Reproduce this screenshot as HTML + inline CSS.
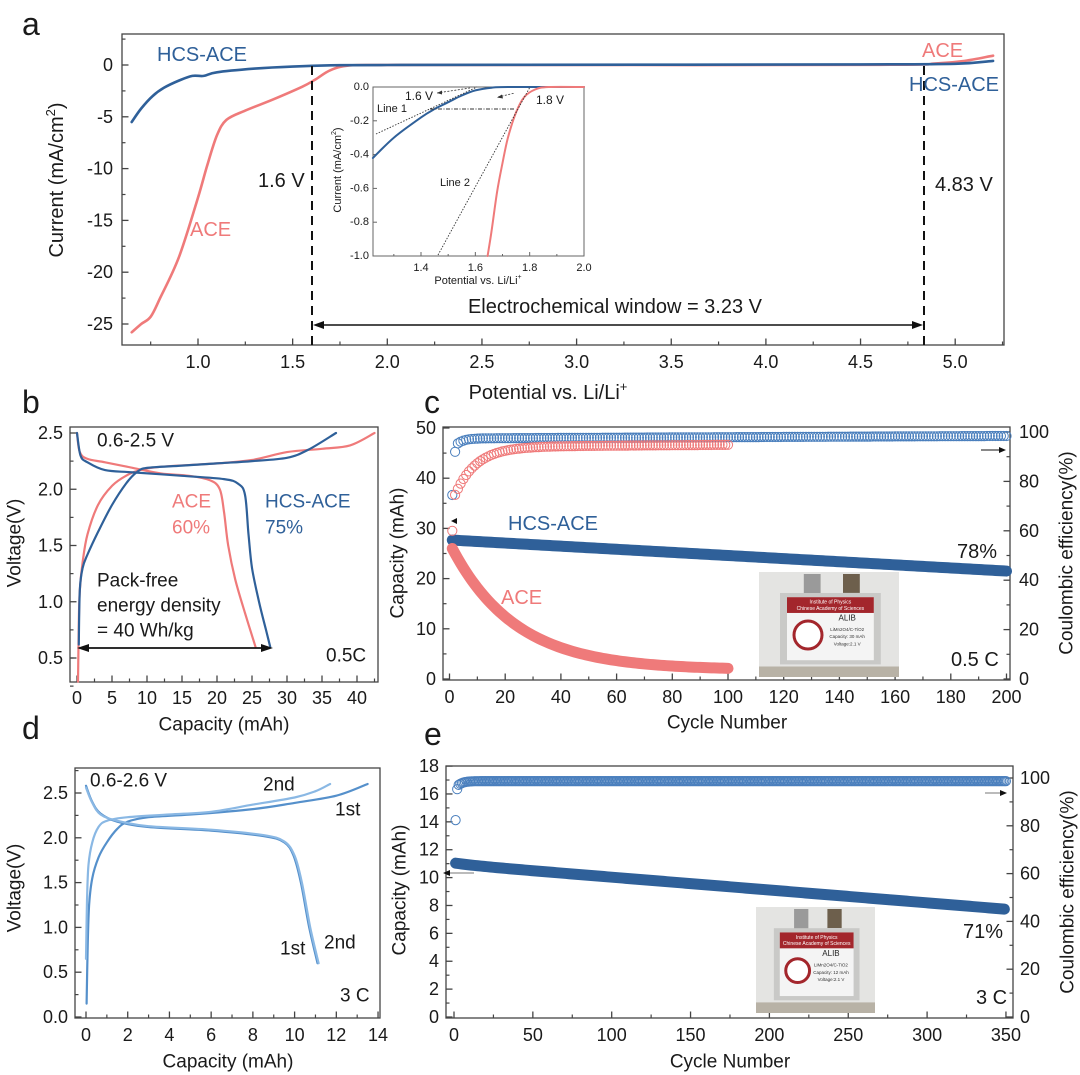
<!DOCTYPE html>
<html><head><meta charset="utf-8">
<style>
html,body{margin:0;padding:0;background:#fff;}
svg{display:block;font-family:"Liberation Sans",Arial,sans-serif;}
</style></head>
<body>
<svg id="s" width="1080" height="1075" viewBox="0 0 1080 1075" xmlns="http://www.w3.org/2000/svg"></svg>
<script>
const S=[];const add=s=>S.push(s);
const BL='#2f6099',RD='#ef7a7a';
function txt(x,y,t,o){o=o||{};const sz=o.size||18,an=o.anchor||'start',c=o.color||'#1a1a1a';
 let tr=o.rot?` transform="rotate(${o.rot} ${x} ${y})"`:'';
 add(`<text x="${x}" y="${y}" font-size="${sz}" fill="${c}" text-anchor="${an}" dominant-baseline="central"${tr}>${t}</text>`);}
function cr(pts){let d=`M${pts[0][0].toFixed(1)},${pts[0][1].toFixed(1)}`;
 for(let i=0;i<pts.length-1;i++){const p0=pts[i-1]||pts[i],p1=pts[i],p2=pts[i+1],p3=pts[i+2]||p2;
 const c1=[p1[0]+(p2[0]-p0[0])/6,p1[1]+(p2[1]-p0[1])/6],c2=[p2[0]-(p3[0]-p1[0])/6,p2[1]-(p3[1]-p1[1])/6];
 d+=` C${c1[0].toFixed(1)},${c1[1].toFixed(1)} ${c2[0].toFixed(1)},${c2[1].toFixed(1)} ${p2[0].toFixed(1)},${p2[1].toFixed(1)}`;}return d;}
function curve(data,X,Y,col,w){add(`<path d="${cr(data.map(p=>[X(p[0]),Y(p[1])]))}" fill="none" stroke="${col}" stroke-width="${w}" stroke-linejoin="round" stroke-linecap="round"/>`);}
function range(a,b,s){const r=[];for(let v=a;v<=b+1e-9;v+=s)r.push(+v.toFixed(4));return r;}
function box(x1,y1,x2,y2){add(`<rect x="${x1}" y="${y1}" width="${x2-x1}" height="${y2-y1}" fill="none" stroke="#444" stroke-width="1.3"/>`);}
function xt(X,y2,maj,min,fmt,ly,sz){min.forEach(v=>add(`<line x1="${X(v)}" y1="${y2}" x2="${X(v)}" y2="${y2-3.5}" stroke="#444" stroke-width="1.2"/>`));
 maj.forEach(v=>{add(`<line x1="${X(v)}" y1="${y2}" x2="${X(v)}" y2="${y2-6.5}" stroke="#444" stroke-width="1.3"/>`);txt(X(v),ly,fmt(v),{anchor:'middle',size:sz||18});});}
function yt(Y,x,maj,min,fmt,lx,right,sz){const d=right?-1:1;
 min.forEach(v=>add(`<line x1="${x}" y1="${Y(v)}" x2="${x+d*3.5}" y2="${Y(v)}" stroke="#444" stroke-width="1.2"/>`));
 maj.forEach(v=>{add(`<line x1="${x}" y1="${Y(v)}" x2="${x+d*6.5}" y2="${Y(v)}" stroke="#444" stroke-width="1.3"/>`);txt(lx,Y(v),fmt(v),{anchor:right?'start':'end',size:sz||18});});}
const f1=v=>v.toFixed(1),f0=v=>String(Math.round(v));

/* ================= Panel a ================= */
txt(22,24,'a',{size:32});
{const X=v=>198+(v-1)*189.3,Y=i=>65-i*10.36;
 box(122,34,1004,345);
 xt(X,345,range(1,5,0.5),range(0.75,5.25,0.5),f1,362);
 yt(Y,122,range(-25,0,5),range(-22.5,2.5,5),f0,113);
 curve([[0.65,-25.8],[0.7,-25],[0.75,-24.3],[0.8,-22.5],[0.9,-18.5],[1.0,-12.8],[1.05,-9.6],[1.1,-6.8],[1.15,-5.3],[1.25,-4.4],[1.4,-3.3],[1.55,-2.1],[1.62,-1.4],[1.7,-0.5],[1.8,-0.05],[2.0,0],[2.7,0],[4.6,0.02],[4.9,0.15],[5.05,0.4],[5.2,0.9]],X,Y,RD,2.6);
 curve([[0.65,-5.5],[0.7,-4.2],[0.76,-3],[0.82,-2.2],[0.9,-1.5],[0.97,-1.05],[1.03,-1.05],[1.1,-0.7],[1.3,-0.35],[1.5,-0.15],[1.7,-0.03],[2.0,0],[2.7,0.02],[4.5,0.06],[5.0,0.12],[5.2,0.4]],X,Y,BL,2.6);
 add(`<line x1="312" y1="66" x2="312" y2="345" stroke="#111" stroke-width="2" stroke-dasharray="9,6"/>`);
 add(`<line x1="924" y1="66" x2="924" y2="345" stroke="#111" stroke-width="2" stroke-dasharray="9,6"/>`);
 add(`<line x1="322" y1="325" x2="914" y2="325" stroke="#111" stroke-width="1.6"/>`);
 add(`<polygon points="313,325 324,321 324,329" fill="#111"/><polygon points="923,325 912,321 912,329" fill="#111"/>`);
 txt(615,307,'Electrochemical window = 3.23 V',{size:20,anchor:'middle'});
 txt(258,181,'1.6 V',{size:20});
 txt(935,185,'4.83 V',{size:20});
 txt(157,55,'HCS-ACE',{size:20,color:BL});
 txt(190,230,'ACE',{size:20,color:RD});
 txt(922,51,'ACE',{size:20,color:RD});
 txt(909,85,'HCS-ACE',{size:20,color:BL});
 txt(57,180,'Current (mA/cm<tspan font-size="13" dy="-7">2</tspan><tspan dy="7">)</tspan>',{size:20,anchor:'middle',rot:-90});
 txt(548,393,'Potential vs. Li/Li<tspan font-size="13" dy="-7">+</tspan>',{size:20,anchor:'middle'});
 /* inset */
 const XI=v=>421+(v-1.4)*271.7,YI=i=>87-i*169;
 add(`<rect x="373" y="87" width="211" height="169" fill="#fff" stroke="#666" stroke-width="1"/>`);
 [1.4,1.6,1.8,2.0].forEach(v=>{add(`<line x1="${XI(v)}" y1="256" x2="${XI(v)}" y2="252" stroke="#666"/>`);txt(XI(v),268,f1(v),{size:11,anchor:'middle'});});
 [1.3,1.5,1.7,1.9].forEach(v=>add(`<line x1="${XI(v)}" y1="256" x2="${XI(v)}" y2="254" stroke="#666"/>`));
 [0,-0.2,-0.4,-0.6,-0.8,-1.0].forEach(v=>{add(`<line x1="373" y1="${YI(v)}" x2="377" y2="${YI(v)}" stroke="#666"/>`);txt(369,YI(v),v.toFixed(1),{size:11,anchor:'end'});});
 txt(478,281,'Potential vs. Li/Li<tspan font-size="7" dy="-4">+</tspan>',{size:11,anchor:'middle'});
 txt(338,170,'Current (mA/cm<tspan font-size="7" dy="-4">2</tspan><tspan dy="4">)</tspan>',{size:11,anchor:'middle',rot:-90});
 curve([[1.223,-0.42],[1.3,-0.3],[1.4,-0.18],[1.45,-0.13],[1.5,-0.09],[1.55,-0.05],[1.6,-0.02],[1.66,-0.004],[1.72,0],[2,0]],XI,YI,BL,2);
 curve([[1.645,-1.0],[1.66,-0.85],[1.68,-0.62],[1.7,-0.45],[1.72,-0.3],[1.75,-0.15],[1.78,-0.06],[1.82,-0.015],[1.87,0],[2,0]],XI,YI,RD,2);
 add(`<line x1="376" y1="134" x2="477" y2="87" stroke="#333" stroke-width="0.9" stroke-dasharray="1.5,1.5"/>`);
 add(`<line x1="438" y1="255" x2="530" y2="87" stroke="#333" stroke-width="0.9" stroke-dasharray="1.5,1.5"/>`);
 add(`<line x1="430" y1="109" x2="515" y2="109" stroke="#333" stroke-width="0.9" stroke-dasharray="4,1.5,1,1.5"/>`);
 add(`<line x1="437" y1="93" x2="470" y2="88" stroke="#333" stroke-width="0.8" stroke-dasharray="2,1.5"/><polygon points="437,93 442,90.5 442,94.5" fill="#333"/>`);
 add(`<line x1="498" y1="97" x2="515" y2="93" stroke="#333" stroke-width="0.8" stroke-dasharray="2,1.5"/><polygon points="497,97.5 502,94.5 503,98.5" fill="#333"/>`);
 txt(405,96,'1.6 V',{size:12});txt(536,100,'1.8 V',{size:12});
 txt(377,109,'Line 1',{size:11});txt(440,183,'Line 2',{size:11});
}

/* ================= Panel b ================= */
txt(22,402,'b',{size:32});
{const X=c=>77+c*7,Y=v=>433+(2.5-v)*112.5;
 box(70,427,378,682);
 xt(X,682,range(0,40,5),range(2.5,42.5,5),f0,698);
 yt(Y,70,range(0.5,2.5,0.5),range(0.25,2.25,0.5).concat([0.5]),f1,63);
 curve([[0.15,0.29],[0.25,0.8],[0.4,1.1],[0.8,1.35],[1.5,1.6],[3,1.86],[5,2.03],[7,2.12],[9,2.17],[12,2.2],[20,2.23],[25,2.26],[30,2.33],[35,2.36],[39,2.39],[42.5,2.5]],X,Y,RD,2.2);
 curve([[0,2.5],[0.4,2.33],[1.5,2.27],[4,2.24],[8,2.19],[12,2.14],[16,2.12],[19,2.08],[20.4,2.0],[21,1.8],[21.6,1.5],[22.6,1.2],[24,0.9],[25.5,0.6]],X,Y,RD,2.2);
 curve([[0.25,0.62],[0.4,1.1],[0.8,1.3],[1.5,1.42],[3,1.62],[5,1.86],[7,2.05],[8.5,2.15],[10,2.19],[15,2.21],[20,2.23],[25,2.25],[30,2.28],[33,2.35],[37,2.5]],X,Y,BL,2.2);
 curve([[0,2.5],[0.5,2.3],[1.5,2.24],[4,2.17],[8,2.15],[15,2.12],[21,2.09],[23,2.05],[24,1.95],[24.5,1.6],[25,1.3],[26,1.0],[27,0.75],[27.6,0.6]],X,Y,BL,2.2);
 add(`<line x1="86" y1="648" x2="264" y2="648" stroke="#111" stroke-width="1.8"/><polygon points="77,648 89,644 89,652" fill="#111"/><polygon points="273,648 261,644 261,652" fill="#111"/>`);
 txt(97,441,'0.6-2.5 V',{size:19});
 txt(172,502,'ACE',{size:19,color:RD});txt(172,528,'60%',{size:19,color:RD});
 txt(265,502,'HCS-ACE',{size:19,color:BL});txt(265,528,'75%',{size:19,color:BL});
 txt(97,581,'Pack-free',{size:19});txt(97,606,'energy density',{size:19});txt(97,631,'= 40 Wh/kg',{size:19});
 txt(326,656,'0.5C',{size:19});
 txt(224,725,'Capacity (mAh)',{size:19,anchor:'middle'});
 txt(15,543,'Voltage(V)',{size:19,anchor:'middle',rot:-90});
}

/* photo helper */
function photo(x,y,w,h,cap){
 add(`<rect x="${x}" y="${y}" width="${w}" height="${h}" fill="#e4e4e2"/>`);
 add(`<rect x="${x+w*0.32}" y="${y+2}" width="${w*0.12}" height="${h*0.2}" fill="#9a9a9a"/>`);
 add(`<rect x="${x+w*0.6}" y="${y+2}" width="${w*0.12}" height="${h*0.18}" fill="#6d5f4c"/>`);
 add(`<rect x="${x+w*0.15}" y="${y+h*0.2}" width="${w*0.72}" height="${h*0.68}" fill="#c9c9c7"/>`);
 add(`<rect x="${x+w*0.2}" y="${y+h*0.24}" width="${w*0.62}" height="${h*0.6}" fill="#f4f4f4"/>`);
 add(`<rect x="${x+w*0.2}" y="${y+h*0.24}" width="${w*0.62}" height="${h*0.15}" fill="#a3262c"/>`);
 add(`<text x="${x+w*0.51}" y="${y+h*0.3}" font-size="5" fill="#fff" text-anchor="middle">Institute of Physics</text>`);
 add(`<text x="${x+w*0.51}" y="${y+h*0.36}" font-size="5" fill="#fff" text-anchor="middle">Chinese Academy of Sciences</text>`);
 add(`<circle cx="${x+w*0.35}" cy="${y+h*0.6}" r="${w*0.1}" fill="#fff" stroke="#a3262c" stroke-width="3"/>`);
 add(`<text x="${x+w*0.63}" y="${y+h*0.46}" font-size="8" fill="#222" text-anchor="middle">ALIB</text>`);
 add(`<text x="${x+w*0.63}" y="${y+h*0.56}" font-size="4.5" fill="#333" text-anchor="middle">LiMn2O4/C-TiO2</text>`);
 add(`<text x="${x+w*0.63}" y="${y+h*0.63}" font-size="4.5" fill="#333" text-anchor="middle">Capacity: ${cap}</text>`);
 add(`<text x="${x+w*0.63}" y="${y+h*0.7}" font-size="4.5" fill="#333" text-anchor="middle">Voltage:2.1 V</text>`);
 add(`<rect x="${x}" y="${y+h*0.9}" width="${w}" height="${h*0.1}" fill="#b8b2a6"/>`);
}

/* ================= Panel c ================= */
txt(424,402,'c',{size:32});
{const X=n=>449.5+n*2.785,YL=c=>679-c*5.02,YR=e=>679-e*2.47;
 box(443,427,1010,680);
 xt(X,680,range(0,200,20),range(10,190,20),f0,697);
 yt(YL,443,range(0,50,10),range(5,45,10),f0,436);
 yt(YR,1010,range(0,100,20),range(10,90,20),f0,1019,true);
 photo(759,572,140,105,'30 mAh');
 let pr=[],pb=[];
 for(let n=1;n<=100;n++)pr.push([X(n),YL(1.8+24.2*Math.exp(-(n-1)/23))]);
 for(let n=1;n<=200;n++)pb.push([X(n),YL(27.7-0.031*n)]);
 add(`<polyline points="${pb.map(p=>p.join(',')).join(' ')}" fill="none" stroke="${BL}" stroke-width="11" stroke-linecap="round" stroke-linejoin="round"/>`);
 add(`<polyline points="${pr.map(p=>p.join(',')).join(' ')}" fill="none" stroke="${RD}" stroke-width="11" stroke-linecap="round" stroke-linejoin="round"/>`);
 let cs='';
 for(let n=1;n<=200;n++){const e=n==1?74.5:n==2?92:98.4-1.0*(1-n/200)-3*Math.exp(-(n-2)/2.5);cs+=`<circle cx="${X(n).toFixed(1)}" cy="${YR(e).toFixed(1)}" r="4.6"/>`;}
 add(`<g fill="none" stroke="#4a7fbd" stroke-width="1">${cs}</g>`);
 cs='';
 for(let n=1;n<=100;n++){const e=n==1?60:94.8-19.5*Math.exp(-(n-2)/7.5)-0.8*(1-n/100);cs+=`<circle cx="${X(n).toFixed(1)}" cy="${YR(e).toFixed(1)}" r="4.6"/>`;}
 add(`<g fill="none" stroke="${RD}" stroke-width="1">${cs}</g>`);
 add(`<polygon points="451,521 457,518 457,524" fill="#111"/>`);
 add(`<line x1="981" y1="450" x2="1003" y2="450" stroke="#111" stroke-width="1"/><polygon points="1006,450 999,447 999,453" fill="#111"/>`);
 txt(508,524,'HCS-ACE',{size:20,color:BL});
 txt(501,598,'ACE',{size:20,color:RD});
 txt(957,552,'78%',{size:20});
 txt(951,660,'0.5 C',{size:20});
 txt(727,723,'Cycle Number',{size:19,anchor:'middle'});
 txt(398,553,'Capacity (mAh)',{size:19,anchor:'middle',rot:-90});
 txt(1067,553,'Coulombic efficiency(%)',{size:19,anchor:'middle',rot:-90});
}

/* ================= Panel d ================= */
txt(22,728,'d',{size:32});
{const X=c=>86+c*20.86,Y=v=>1017-v*89.6;
 box(75,768,380,1018);
 xt(X,1018,range(0,14,2),range(1,13,2),f0,1035);
 yt(Y,75,range(0,2.5,0.5),range(0.25,2.75,0.5),f1,68);
 const C1='#5590cb',C2='#8ab8e4';
 curve([[0.03,0.15],[0.08,0.8],[0.15,1.25],[0.3,1.55],[0.6,1.78],[1.0,1.95],[1.5,2.1],[2,2.18],[3,2.23],[5,2.26],[8,2.32],[10,2.39],[12,2.47],[13.5,2.6]],X,Y,C1,2.2);
 curve([[0.0,0.65],[0.05,1.3],[0.12,1.7],[0.3,1.95],[0.6,2.12],[1.0,2.19],[2,2.23],[4,2.26],[6,2.29],[8,2.37],[10,2.45],[11,2.52],[11.7,2.6]],X,Y,C2,2.2);
 curve([[0,2.58],[0.3,2.4],[0.7,2.27],[1.5,2.18],[3,2.12],[6,2.08],[8.5,2.02],[9.5,1.95],[9.95,1.8],[10.3,1.5],[10.7,1.0],[11.1,0.6]],X,Y,C1,2.2);
 curve([[0,2.56],[0.3,2.39],[0.7,2.26],[1.5,2.19],[3,2.13],[6,2.09],[8.5,2.03],[9.5,1.96],[10.0,1.8],[10.35,1.5],[10.75,1.0],[11.15,0.6]],X,Y,C2,2.2);
 txt(90,781,'0.6-2.6 V',{size:19});
 txt(263,785,'2nd',{size:19});txt(335,810,'1st',{size:19});
 txt(280,949,'1st',{size:19});txt(324,943,'2nd',{size:19});
 txt(340,996,'3 C',{size:19});
 txt(228,1062,'Capacity (mAh)',{size:19,anchor:'middle'});
 txt(15,888,'Voltage(V)',{size:19,anchor:'middle',rot:-90});
}

/* ================= Panel e ================= */
txt(424,734,'e',{size:32});
{const X=n=>454+n*1.577,YL=c=>1017-c*13.94,YR=e=>1017-e*2.39;
 box(446,766,1013,1018);
 xt(X,1018,range(0,350,50),range(25,325,50),f0,1035);
 yt(YL,446,range(0,18,2),range(1,17,2),f0,439);
 yt(YR,1013,range(0,100,20),range(10,90,20),f0,1020,true);
 photo(756,907,119,106,'12 mAh');
 let pb=[];for(let n=1;n<=350;n+=2)pb.push([X(n),YL(11.05-0.0092*n-0.1*(1-Math.exp(-n/15)))]);
 add(`<polyline points="${pb.map(p=>p.join(',')).join(' ')}" fill="none" stroke="${BL}" stroke-width="11" stroke-linecap="round" stroke-linejoin="round"/>`);
 let cs='';
 for(let n=1;n<=350;n++){const e=n==1?82.4:n==2?95.3:98.7-1.6*Math.exp(-(n-3)/3);cs+=`<circle cx="${X(n).toFixed(1)}" cy="${YR(e).toFixed(1)}" r="4.6"/>`;}
 add(`<g fill="none" stroke="#4a7fbd" stroke-width="1">${cs}</g>`);
 add(`<line x1="446" y1="873" x2="474" y2="873" stroke="#777" stroke-width="1"/><polygon points="443,873 450,870 450,876" fill="#111"/>`);
 add(`<line x1="985" y1="793" x2="1003" y2="793" stroke="#777" stroke-width="1"/><polygon points="1007,793 1000,790 1000,796" fill="#111"/>`);
 txt(963,932,'71%',{size:20});
 txt(976,998,'3 C',{size:20});
 txt(730,1062,'Cycle Number',{size:19,anchor:'middle'});
 txt(400,890,'Capacity (mAh)',{size:19,anchor:'middle',rot:-90});
 txt(1068,892,'Coulombic efficiency(%)',{size:19,anchor:'middle',rot:-90});
}
document.getElementById('s').innerHTML=S.join('');
</script>
</body></html>
